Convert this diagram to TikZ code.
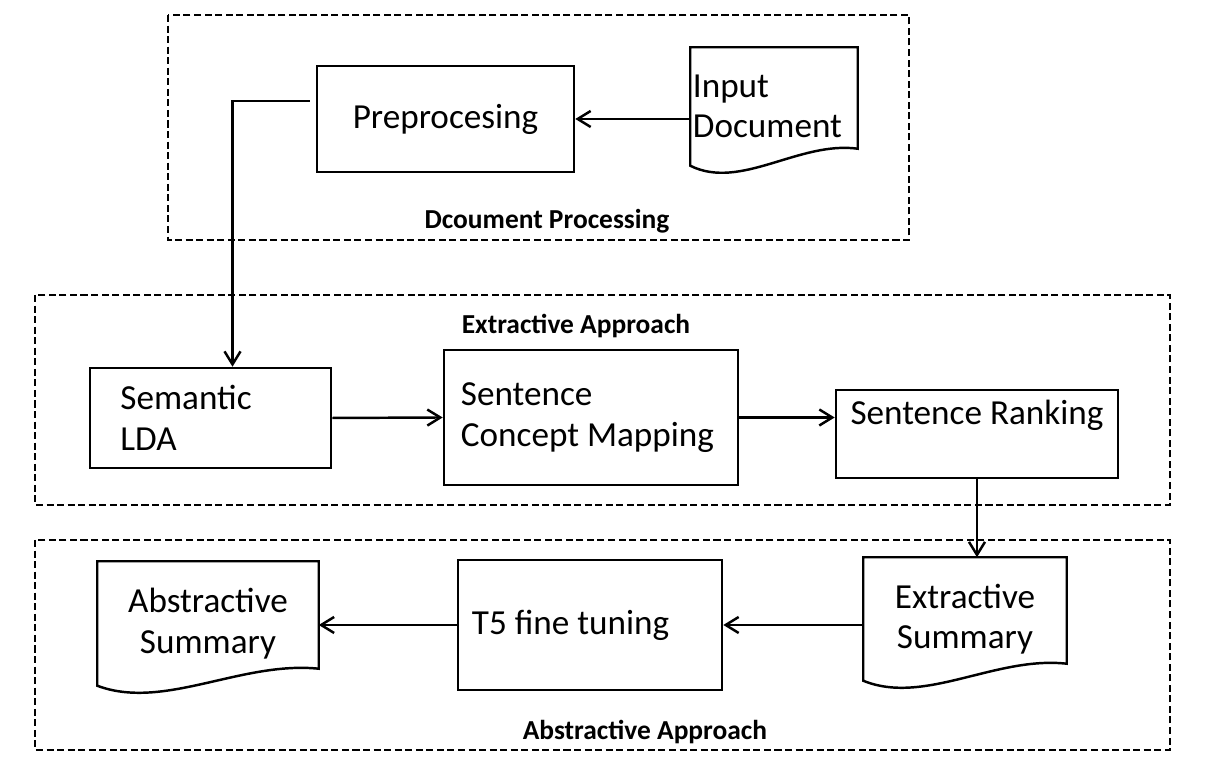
\documentclass[tikz,border=0pt]{standalone}
\usepackage{fontspec}
\setmainfont{Carlito}
\usetikzlibrary{positioning}
\usetikzlibrary{calc}
\usetikzlibrary{arrows.meta}

\tikzset{
  boxline/.style={line width=0.7pt},
  process/.style={boxline, draw, rectangle, inner sep=0pt, font=\fontsize{10}{11.5}\selectfont},
  docnode/.style={rectangle, inner sep=0pt, align=center, font=\fontsize{10}{11.5}\selectfont},
  groupbox/.style={line width=0.7pt, dash pattern=on 2pt off 1pt},
  grouplabel/.style={font=\fontsize{7.8}{9}\selectfont\bfseries},
  flow/.style={line width=0.7pt, -{Straight Barb[length=1.3mm,width=1.6mm]}},
}

% outline of a document symbol around a node
\newcommand{\wavedoc}[1]{%
  \draw[boxline] ([yshift=0.17cm]#1.south east) -- (#1.north east) -- (#1.north west) -- (#1.south west)
    .. controls ($(#1.south west)!0.3!(#1.south east)+(0,-0.25cm)$) and ($(#1.south west)!0.65!(#1.south east)+(0,0.25cm)$) .. ([yshift=0.17cm]#1.south east) -- cycle;}

\begin{document}
\begin{tikzpicture}[x=0.01cm, y=-0.01cm]
    \useasboundingbox (0,0) rectangle (1205,774);

    % group frames
    \draw[groupbox] (168,15) rectangle (909,240);
    \draw[groupbox] (35,295) rectangle (1170,505);
    \draw[groupbox] (35,540) rectangle (1170,750);

    \node[grouplabel] (lbldoc) at (547,221) {Dcoument Processing};
    \node[grouplabel] (lblext) at (576,326) {Extractive Approach};
    \node[grouplabel] (lblabs) at (645,732) {Abstractive Approach};

    % document processing
    \node[process, minimum width=2.57cm, minimum height=1.06cm] (pre) at (445.5,119) {Preprocesing};
    \node[docnode, minimum width=1.66cm, minimum height=1.17cm, text width=1.62cm, inner xsep=0.02cm, align=flush left] (indoc) at (774,106.5) {Input\\Document};

    % extractive approach
    \node[process, minimum width=2.41cm, minimum height=1.0cm, text width=1.8cm, inner xsep=0.305cm, align=flush left] (lda) at (210.5,418) {Semantic\\LDA};
    \node[process, minimum width=2.94cm, minimum height=1.35cm, text width=2.6cm, inner xsep=0.17cm, align=flush left] (scm) at (591,417.5) {Sentence\\Concept Mapping};
    \node[process, minimum width=2.82cm, minimum height=0.88cm, text depth=0.43cm] (srank) at (977,434) {Sentence Ranking};

    % abstractive approach
    \node[docnode, minimum width=2.02cm, minimum height=1.22cm] (exsum) at (965,619) {Extractive\\Summary};
    \node[process, minimum width=2.64cm, minimum height=1.30cm, text width=2.36cm, inner xsep=0.14cm, align=flush left] (tfive) at (590,625) {T5 fine tuning};
    \node[docnode, minimum width=2.2cm, minimum height=1.23cm] (absum) at (208,623.5) {Abstractive\\Summary};

    \wavedoc{indoc}
    \wavedoc{exsum}
    \wavedoc{absum}

    % flow
    \draw[flow] (indoc.west |- pre.east) -- (pre.east);
    \draw[flow] ([xshift=-0.06cm,yshift=0.18cm]pre.west) -| ([xshift=0.22cm]lda.north);
    \draw[flow] (lda.east) -- (scm.west);
    \draw[flow] (scm.east) -- (srank.west |- scm.east);
    \draw[flow] (srank.south) -- (srank.south |- exsum.north);
    \draw[flow] (exsum.west |- tfive.east) -- (tfive.east);
    \draw[flow] (tfive.west) -- (absum.east |- tfive.west);
\end{tikzpicture}
\end{document}
